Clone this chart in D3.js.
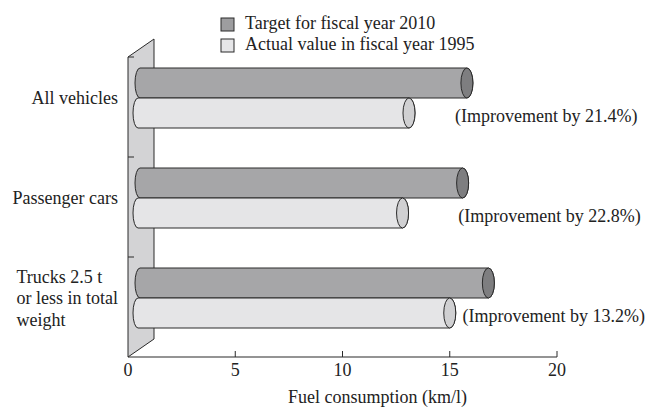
<!DOCTYPE html>
<html><head><meta charset="utf-8">
<script src="https://cdn.jsdelivr.net/npm/d3@7"></script>
<style>
html,body{margin:0;padding:0;background:#fff;}
svg{display:block;}
text{font-family:"Liberation Serif","Times New Roman",serif;font-size:18px;fill:#222;}
</style></head>
<body>
<script>
// ---- data ----
const categories = ["All vehicles", "Passenger cars", "Trucks 2.5 t\nor less in total\nweight"];
const target2010 = [15.8, 15.6, 16.8];
const actual1995 = [13.1, 12.8, 15.0];
const improvementLabels = ["(Improvement by 21.4%)", "(Improvement by 22.8%)", "(Improvement by 13.2%)"];
const seriesNames = ["Target for fiscal year 2010", "Actual value in fiscal year 1995"];
const xTicks = [0, 5, 10, 15, 20];
const axisTitle = "Fuel consumption (km/l)";

// ---- layout ----
const W = 650, H = 409;
const svg = d3.select("body").append("svg").attr("width", W).attr("height", H);

const x = d3.scaleLinear().domain([0, 20]).range([128, 557]);
const y = d3.scaleBand().domain(categories).range([57, 357]).paddingInner(0).paddingOuter(0);
const depth = {dx: 26, dy: -18};
const barH = 30, barTop = 11;
const colors = {
  dark: "#a6a6a8", darkEnd: "#7e7e80",
  light: "#e5e5e7", lightEnd: "#d0d0d2",
  wall: "#d3d3d5", stroke: "#2a2a2a"
};

// back wall (3D side panel)
const x0 = x(0), yTop = y.range()[0], yBot = y.range()[1];
svg.append("path")
  .attr("d", `M${x0},${yTop} L${x0 + depth.dx},${yTop + depth.dy} L${x0 + depth.dx},${yBot + depth.dy} L${x0},${yBot} Z`)
  .attr("fill", colors.wall).attr("stroke", colors.stroke).attr("stroke-width", 1);

// category separator ticks on the wall
svg.selectAll("line.sep").data(categories).enter().append("line")
  .attr("x1", x0).attr("x2", x0 + 6)
  .attr("y1", d => y(d)).attr("y2", d => y(d))
  .attr("stroke", colors.stroke).attr("stroke-width", 1);

// x axis
const axisG = svg.append("g").attr("transform", `translate(0,${yBot})`);
axisG.append("line").attr("x1", x0).attr("x2", x(20)).attr("y1", 0).attr("y2", 0)
  .attr("stroke", colors.stroke).attr("stroke-width", 1.2);
axisG.selectAll("line.tk").data(xTicks.filter(t => t > 0)).enter().append("line")
  .attr("x1", d => x(d)).attr("x2", d => x(d)).attr("y1", 0).attr("y2", -6)
  .attr("stroke", colors.stroke).attr("stroke-width", 1);
axisG.selectAll("text").data(xTicks).enter().append("text")
  .attr("x", d => x(d)).attr("y", 19).attr("text-anchor", "middle").text(d => d);
svg.append("text").attr("x", (x(0) + x(20)) / 2 + 35).attr("y", 403)
  .attr("text-anchor", "middle").text(axisTitle);

// cylinder bars
function cylinder(g, xs, xe, top, h, fill, endFill) {
  const ry = h / 2, rxL = 5, rxR = 6;
  g.append("path")
    .attr("d", `M${xs},${top} L${xe},${top} A${rxR},${ry} 0 0 1 ${xe},${top + h} L${xs},${top + h} A${rxL},${ry} 0 0 1 ${xs},${top} Z`)
    .attr("fill", fill).attr("stroke", colors.stroke).attr("stroke-width", 1);
  g.append("ellipse").attr("cx", xe).attr("cy", top + ry).attr("rx", rxR).attr("ry", ry)
    .attr("fill", endFill).attr("stroke", colors.stroke).attr("stroke-width", 1);
}
const barsG = svg.append("g");
categories.forEach((c, i) => {
  const g = barsG.append("g");
  cylinder(g, x(0) + 12, x(target2010[i]), y(c) + barTop, barH, colors.dark, colors.darkEnd);
  cylinder(g, x(0) + 10, x(actual1995[i]), y(c) + barTop + barH, barH, colors.light, colors.lightEnd);
});

// improvement annotations
const noteX = [15.25, 15.4, 15.6];
const noteDy = [54, 54, 54];
svg.selectAll("text.note").data(improvementLabels).enter().append("text")
  .attr("class", "note")
  .attr("x", (d, i) => x(noteX[i]))
  .attr("y", (d, i) => y(categories[i]) + 11 + noteDy[i])
  .text(d => d);

// category labels (block right-aligned at wall, lines left-aligned)
const labelRight = x0 - 10;
categories.forEach((c, i) => {
  const lines = c.split("\n");
  const center = y(c) + barTop + barH;
  const lh = 21.5;
  const t = svg.append("text").attr("y", 0);
  const spans = lines.map((ln, k) => t.append("tspan")
    .attr("y", center + (k - (lines.length - 1) / 2) * lh + 6).text(ln));
  const maxW = d3.max(spans, s => s.node().getComputedTextLength());
  spans.forEach(s => s.attr("x", labelRight - maxW));
});

// legend
const lg = svg.append("g");
seriesNames.forEach((s, i) => {
  lg.append("rect").attr("x", 221).attr("y", 18 + i * 21).attr("width", 13).attr("height", 13)
    .attr("fill", i === 0 ? "#9d9d9f" : "#e6e6e8").attr("stroke", colors.stroke).attr("stroke-width", 1);
  lg.append("text").attr("x", 245).attr("y", 29 + i * 21).text(s);
});
</script>
</body></html>
